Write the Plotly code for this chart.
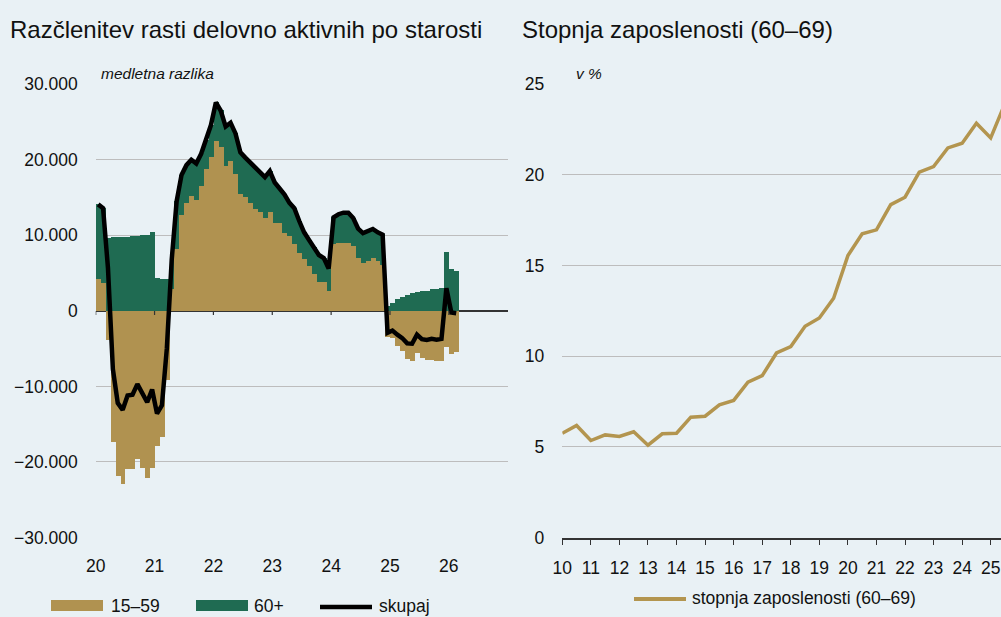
import plotly.graph_objects as go

# ---------------- data: left panel (thousands of persons, monthly Jan 2020 - Feb 2026) -------------
start_year = 2020
age_15_59 = [4.25, 3.7, -3.85, -17.4, -21.9, -22.9, -21.0, -21.0, -19.6, -20.8, -22.1, -20.8,
             -17.9, -16.7, -9.2, 2.8, 8.2, 12.6, 14.3, 15.2, 14.6, 16.5, 18.7, 20.3,
             22.5, 21.6, 19.2, 19.8, 18.05, 15.5, 15.1, 14.2, 13.4, 13.05, 12.3, 13.05,
             11.55, 11.55, 10.3, 9.9, 8.8, 7.65, 6.8, 5.9, 4.8, 3.8, 3.8, 2.6,
             8.8, 9.0, 9.0, 8.9, 8.5, 6.9, 6.3, 6.6, 6.9, 6.6, 6.1, -3.5,
             -3.6, -4.7, -5.4, -6.4, -6.7, -5.6, -6.3, -6.5, -6.5, -6.7, -6.7, -4.8,
             -5.7, -5.5]
age_60_plus = [9.85, 9.9, 9.55, 9.7, 9.75, 9.8, 9.8, 9.85, 9.9, 9.95, 10.0, 10.4,
               4.3, 4.15, 4.15, 4.0, 6.3, 5.4, 5.0, 4.8, 4.9, 4.3, 3.9, 4.3,
               5.1, 4.9, 5.2, 5.1, 5.45, 5.5, 5.2, 5.4, 5.5, 5.35, 5.4, 5.45,
               5.45, 4.65, 5.1, 4.4, 4.8, 4.25, 3.6, 3.5, 3.6, 3.6, 3.2, 3.0,
               3.6, 3.8, 4.0, 4.1, 3.8, 4.0, 4.0, 4.0, 3.95, 3.8, 4.0, 0.6,
               1.0, 1.55, 1.8, 2.1, 2.35, 2.45, 2.55, 2.65, 2.8, 2.9, 3.0, 7.7,
               5.5, 5.2]
total = [14.1, 13.6, 5.7, -7.7, -12.2, -13.1, -11.2, -11.1, -9.7, -10.9, -12.1, -10.4,
         -13.6, -12.5, -5.0, 6.8, 14.5, 18.0, 19.3, 20.0, 19.5, 20.8, 22.6, 24.6,
         27.6, 26.5, 24.4, 24.9, 23.5, 21.0, 20.3, 19.6, 18.9, 18.4, 17.7, 18.5,
         17.0, 16.2, 15.4, 14.3, 13.6, 11.9, 10.4, 9.4, 8.4, 7.4, 7.0, 5.6,
         12.4, 12.8, 13.0, 13.0, 12.3, 10.9, 10.3, 10.6, 10.85, 10.4, 10.1, -2.9,
         -2.6, -3.15, -3.6, -4.3, -4.35, -3.15, -3.75, -3.85, -3.7, -3.8, -3.7, 3.0,
         -0.2, -0.3]
left_ticks = [2020, 2021, 2022, 2023, 2024, 2025, 2026]
left_tick_labels = ["20", "21", "22", "23", "24", "25", "26"]
left_y_ticks = [-30000, -20000, -10000, 0, 10000, 20000, 30000]

# ---------------- data: right panel (employment rate 60-69, %, half-yearly) -------------
emp_period = [2010.0, 2010.5, 2011.0, 2011.5, 2012.0, 2012.5, 2013.0, 2013.5,
              2014.0, 2014.5, 2015.0, 2015.5, 2016.0, 2016.5, 2017.0, 2017.5,
              2018.0, 2018.5, 2019.0, 2019.5, 2020.0, 2020.5, 2021.0, 2021.5,
              2022.0, 2022.5, 2023.0, 2023.5, 2024.0, 2024.5, 2025.0, 2025.5]
emp_rate = [5.75, 6.18, 5.35, 5.66, 5.57, 5.83, 5.09, 5.72,
            5.75, 6.64, 6.69, 7.32, 7.56, 8.57, 8.93, 10.18,
            10.53, 11.65, 12.11, 13.2, 15.55, 16.75, 16.97, 18.36,
            18.77, 20.15, 20.46, 21.49, 21.75, 22.85, 22.04, 23.95]
right_ticks = list(range(2010, 2026))
right_tick_labels = [str(y)[2:] for y in right_ticks]
right_y_ticks = [0, 5, 10, 15, 20, 25]

# ---------------- styling -------------
TAN = "#B09250"
GREEN = "#1F6B52"
LINE_TAN = "#B3954F"
BG = "#E9F1F5"
GRID = "#BDBDBD"
AXIS = "#333333"
TXT = "#111111"
FONT = "Liberation Sans, Arial, sans-serif"
TICK = 17.5

W, H = 1001, 617


def px(x):
    return x / W


def py(y):
    return 1 - y / H


month_x = [start_year + (k + 0.5) / 12 for k in range(len(age_15_59))]

fig = go.Figure()
fig.add_trace(go.Bar(x=month_x, y=[v * 1000 for v in age_15_59], width=1 / 12,
                     marker=dict(color=TAN, line=dict(width=0)), name="15–59",
                     xaxis="x", yaxis="y", showlegend=False))
fig.add_trace(go.Bar(x=month_x, y=[v * 1000 for v in age_60_plus], width=1 / 12,
                     marker=dict(color=GREEN, line=dict(width=0)), name="60+",
                     xaxis="x", yaxis="y", showlegend=False))
fig.add_trace(go.Scatter(x=month_x, y=[v * 1000 for v in total], mode="lines",
                         line=dict(color="black", width=4.5), name="skupaj",
                         xaxis="x", yaxis="y", showlegend=False))
fig.add_trace(go.Scatter(x=emp_period, y=emp_rate, mode="lines",
                         line=dict(color=LINE_TAN, width=3.5),
                         name="stopnja zaposlenosti (60–69)",
                         xaxis="x2", yaxis="y2", showlegend=False))

ydom = [(H - 537.5) / H, (H - 84.3) / H]

fig.update_layout(
    template="none",
    width=W, height=H,
    margin=dict(l=0, r=0, t=0, b=0, pad=0),
    paper_bgcolor=BG, plot_bgcolor=BG,
    barmode="relative", bargap=0,
    separators=",.",
    font=dict(family=FONT, size=TICK, color=TXT),
    xaxis=dict(domain=[px(95.7), px(507.7)], range=[2020, 2027],
               tickvals=left_ticks, ticktext=left_tick_labels,
               showgrid=False, zeroline=False, showline=False, ticks="",
               ticklabelstandoff=16, tickfont=dict(size=TICK, family=FONT),
               anchor="y", automargin=False),
    yaxis=dict(domain=ydom, range=[-30000, 30000], tickvals=left_y_ticks,
               tickformat=",d", showgrid=True, gridcolor=GRID, gridwidth=1,
               zeroline=True, zerolinecolor=AXIS, zerolinewidth=1.5,
               showline=False, ticks="", ticklabelstandoff=17,
               tickfont=dict(size=TICK, family=FONT), anchor="x", automargin=False),
    xaxis2=dict(domain=[px(562.3), 1.0], range=[2010, 2010 + (W - 562.3) / 28.56],
                tickvals=right_ticks, ticktext=right_tick_labels,
                showgrid=False, zeroline=False, showline=True, linecolor=AXIS,
                linewidth=1.5, ticks="outside", ticklen=6, tickcolor=AXIS,
                ticklabelstandoff=8, tickfont=dict(size=TICK, family=FONT),
                anchor="y2", automargin=False),
    yaxis2=dict(domain=ydom, range=[0, 25], tickvals=right_y_ticks,
                showgrid=True, gridcolor=GRID, gridwidth=1, zeroline=False,
                showline=False, ticks="", ticklabelstandoff=17,
                tickfont=dict(size=TICK, family=FONT), anchor="x2", automargin=False),
)

# year tick marks on the zero line of the left panel
for t in left_ticks:
    fig.add_shape(type="line", xref="x", yref="y", x0=t, x1=t, y0=0, y1=-550,
                  line=dict(color=AXIS, width=1.2))

# titles and axis notes
fig.add_annotation(text="Razčlenitev rasti delovno aktivnih po starosti", xref="paper", yref="paper",
                   x=px(8), y=py(30), xanchor="left", yanchor="middle", showarrow=False,
                   font=dict(size=24, family=FONT, color=TXT))
fig.add_annotation(text="Stopnja zaposlenosti (60–69)", xref="paper", yref="paper",
                   x=px(520), y=py(30), xanchor="left", yanchor="middle", showarrow=False,
                   font=dict(size=24, family=FONT, color=TXT))
fig.add_annotation(text="medletna razlika", xref="paper", yref="paper",
                   x=px(99), y=py(73), xanchor="left", yanchor="middle", showarrow=False,
                   font=dict(size=15.5, family=FONT, color=TXT, style="italic"))
fig.add_annotation(text="v %", xref="paper", yref="paper",
                   x=px(574), y=py(73), xanchor="left", yanchor="middle", showarrow=False,
                   font=dict(size=15.5, family=FONT, color=TXT, style="italic"))

# custom legends
legend_items = [("15–59", TAN, "rect", 51, 103, 109),
                ("60+", GREEN, "rect", 196, 248, 252),
                ("skupaj", "black", "line", 320, 372, 377)]
for label, color, kind, x0, x1, xt in legend_items:
    if kind == "rect":
        fig.add_shape(type="rect", xref="paper", yref="paper", x0=px(x0), x1=px(x1),
                      y0=py(611), y1=py(600), fillcolor=color, line=dict(width=0))
    else:
        fig.add_shape(type="line", xref="paper", yref="paper", x0=px(x0), x1=px(x1),
                      y0=py(607), y1=py(607), line=dict(color=color, width=4.5))
    fig.add_annotation(text=label, xref="paper", yref="paper", x=px(xt), y=py(606),
                       xanchor="left", yanchor="middle", showarrow=False,
                       font=dict(size=TICK, family=FONT, color=TXT))

fig.add_shape(type="line", xref="paper", yref="paper", x0=px(634), x1=px(686),
              y0=py(599), y1=py(599), line=dict(color=LINE_TAN, width=4))
fig.add_annotation(text="stopnja zaposlenosti (60–69)", xref="paper", yref="paper",
                   x=px(690), y=py(598), xanchor="left", yanchor="middle", showarrow=False,
                   font=dict(size=TICK, family=FONT, color=TXT))

fig.write_html("out.html", config={"displayModeBar": False},
               post_script="document.body.style.margin='0';")
